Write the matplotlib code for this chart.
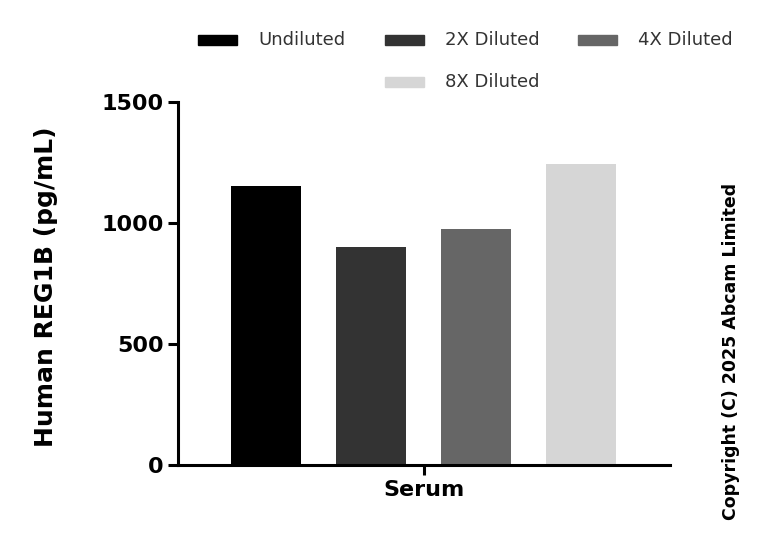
import matplotlib
matplotlib.use("Agg")
import matplotlib.pyplot as plt

categories = ["Undiluted", "2X Diluted", "4X Diluted", "8X Diluted"]
values = [1153, 901, 975, 1244]
colors = ["#000000", "#333333", "#666666", "#d6d6d6"]
group = "Serum"

fig = plt.figure(figsize=(7.68, 5.48), dpi=100)
ax = fig.add_axes([0.232, 0.151, 0.64, 0.663])
xs = list(range(len(values)))
bars = ax.bar(xs, values, width=0.667, color=colors, label=categories)
ax.set_xlim(-0.84, 3.845)
ax.set_ylim(0, 1500)
ax.set_yticks([0, 500, 1000, 1500])
ax.set_xticks([1.5])
ax.set_xticklabels([group])
for s in ["top", "right"]:
    ax.spines[s].set_visible(False)
for s in ["left", "bottom"]:
    ax.spines[s].set_linewidth(2.2)
ax.tick_params(axis="both", width=2.2, length=7, labelsize=16)
for t in ax.get_yticklabels() + ax.get_xticklabels():
    t.set_fontweight("bold")
ax.set_ylabel("Human REG1B (pg/mL)", fontsize=18, fontweight="bold")
ax.yaxis.set_label_coords(-0.245, 0.49)

# legend, row-major layout
hx = [198, 385, 578, 385]
hy = [40, 40, 40, 82]
for b, lab, x, y in zip(bars, categories, hx, hy):
    fig.patches.append(plt.Rectangle((x / 768, 1 - (y + 5) / 548), 39 / 768, 10 / 548,
                                     transform=fig.transFigure, color=b.get_facecolor()))
    fig.text((x + 60) / 768, 1 - y / 548, lab, fontsize=13, color="#333333",
             ha="left", va="center")
fig.text(0.952, 0.358, "Copyright (C) 2025 Abcam Limited", rotation=90,
         fontsize=12.5, fontweight="bold", ha="center", va="center")
fig.savefig("out.png", dpi=100)
